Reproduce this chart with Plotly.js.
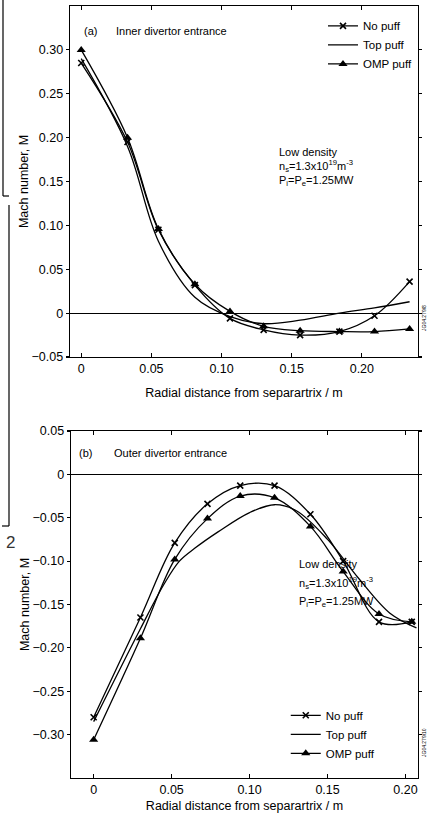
<!DOCTYPE html>
<html>
<head>
<meta charset="utf-8">
<script src="https://cdn.plot.ly/plotly-3.0.1.min.js"></script>
<style>html,body{margin:0;padding:0;background:#fff;}#chart{width:429px;height:813px;}</style>
</head>
<body>
<div id="chart"></div>
<script>
// ---- Panel (a): inner divertor entrance ----
const xA = [0, 0.033, 0.055, 0.081, 0.106, 0.130, 0.156, 0.184, 0.209, 0.234];
const noPuffA = [0.285, 0.195, 0.095, 0.032, -0.006, -0.019, -0.025, -0.021, -0.003, 0.036];
const topPuffA = [0.290, 0.190, 0.082, 0.018, -0.004, -0.012, -0.008, 0.000, 0.006, 0.013];
const ompPuffA = [0.300, 0.200, 0.096, 0.033, 0.002, -0.015, -0.020, -0.021, -0.021, -0.018];

// ---- Panel (b): outer divertor entrance ----
const xB = [0, 0.030, 0.052, 0.073, 0.094, 0.116, 0.139, 0.160, 0.183, 0.204];
const noPuffB = [-0.280, -0.165, -0.079, -0.034, -0.013, -0.013, -0.046, -0.100, -0.170, -0.170];
const ompPuffB = [-0.306, -0.189, -0.098, -0.051, -0.025, -0.027, -0.060, -0.112, -0.161, -0.170];
const xBtop = [0, 0.030, 0.045, 0.055, 0.065, 0.080, 0.100, 0.116, 0.130, 0.150, 0.170, 0.190, 0.207];
const topPuffB = [-0.285, -0.178, -0.127, -0.100, -0.085, -0.066, -0.044, -0.035, -0.042, -0.075, -0.120, -0.160, -0.177];

const seriesNames = ['No puff', 'Top puff', 'OMP puff'];
const xTickVals = [0, 0.05, 0.10, 0.15, 0.20];
const xTickText = ['0', '0.05', '0.10', '0.15', '0.20'];
const yTickValsA = [-0.05, 0, 0.05, 0.10, 0.15, 0.20, 0.25, 0.30];
const yTickTextA = ['\u22120.05', '0', '0.05', '0.10', '0.15', '0.20', '0.25', '0.30'];
const yTickValsB = [0.05, 0, -0.05, -0.10, -0.15, -0.20, -0.25, -0.30];
const yTickTextB = ['0.05', '0', '\u22120.05', '\u22120.10', '\u22120.15', '\u22120.20', '\u22120.25', '\u22120.30'];

const FONT = 'Liberation Sans, Arial, Helvetica, sans-serif';
const lineStyle = {color: '#000', width: 1.3, shape: 'spline', smoothing: 1};
const noPuffMarker = {symbol: 'x-thin-open', size: 6, color: '#000', line: {color: '#000', width: 1.6}};
const ompMarker = {symbol: 'triangle-up', size: 8, color: '#000'};

const traces = [
  {x: xA, y: noPuffA, name: seriesNames[0], mode: 'lines+markers', line: lineStyle, marker: noPuffMarker, xaxis: 'x', yaxis: 'y', legend: 'legend'},
  {x: xA, y: topPuffA, name: seriesNames[1], mode: 'lines', line: lineStyle, xaxis: 'x', yaxis: 'y', legend: 'legend'},
  {x: xA, y: ompPuffA, name: seriesNames[2], mode: 'lines+markers', line: lineStyle, marker: ompMarker, xaxis: 'x', yaxis: 'y', legend: 'legend'},
  {x: xB, y: noPuffB, name: seriesNames[0], mode: 'lines+markers', line: lineStyle, marker: noPuffMarker, xaxis: 'x2', yaxis: 'y2', legend: 'legend2'},
  {x: xBtop, y: topPuffB, name: seriesNames[1], mode: 'lines', line: lineStyle, xaxis: 'x2', yaxis: 'y2', legend: 'legend2'},
  {x: xB, y: ompPuffB, name: seriesNames[2], mode: 'lines+markers', line: lineStyle, marker: ompMarker, xaxis: 'x2', yaxis: 'y2', legend: 'legend2'}
];

const axisCommon = {
  showline: true, linecolor: '#000', linewidth: 1.4, mirror: 'ticks',
  showgrid: false, ticks: 'inside', ticklen: 4, tickwidth: 1.2, tickcolor: '#000',
  tickfont: {family: FONT, size: 12.5, color: '#000'}
};
const titleFont = {family: FONT, size: 12.5, color: '#000'};
const xTitleA = {text: 'Radial distance from separartrix / m', font: titleFont, standoff: 13};
const xTitleB = {text: 'Radial distance from separartrix / m', font: titleFont, standoff: 9};
const yTitle = {text: 'Mach number, M', font: titleFont, standoff: 0};

const annFont = {family: FONT, size: 11, color: '#000'};
const py = v => (778 - v) / 772;
const px = v => (v - 70) / 348;
const layout = {
  width: 429, height: 813,
  margin: {l: 70, r: 11, t: 6, b: 35},
  paper_bgcolor: '#fff', plot_bgcolor: '#fff',
  font: {family: FONT, color: '#000'},
  xaxis: Object.assign({}, axisCommon, {domain: [0, 1], anchor: 'y', range: [-0.008, 0.24], tickvals: xTickVals, ticktext: xTickText, zeroline: false, title: xTitleA}),
  yaxis: Object.assign({}, axisCommon, {domain: [0.5453, 1], anchor: 'x', range: [-0.05, 0.35], tickvals: yTickValsA, ticktext: yTickTextA, ticks: 'outside', ticklen: 3, zeroline: true, zerolinecolor: '#000', zerolinewidth: 1.2, title: yTitle}),
  xaxis2: Object.assign({}, axisCommon, {domain: [0.003, 1], anchor: 'y2', range: [-0.0145, 0.208], tickvals: xTickVals, ticktext: xTickText, zeroline: false, title: xTitleB}),
  yaxis2: Object.assign({}, axisCommon, {domain: [0, 0.4495], anchor: 'x2', range: [-0.35, 0.05], tickvals: yTickValsB, ticktext: yTickTextB, ticks: 'outside', ticklen: 3, zeroline: true, zerolinecolor: '#000', zerolinewidth: 1.2, title: yTitle}),
  legend: {x: 0.727, xanchor: 'left', y: 0.993, yanchor: 'top', bgcolor: 'rgba(0,0,0,0)', font: {family: FONT, size: 11.5, color: '#000'}, itemwidth: 30, tracegroupgap: 0},
  legend2: {x: 0.62, xanchor: 'left', y: 0.1, yanchor: 'top', bgcolor: 'rgba(0,0,0,0)', font: {family: FONT, size: 11.5, color: '#000'}, itemwidth: 30, tracegroupgap: 0},
  annotations: [
    {xref: 'paper', yref: 'paper', x: px(82), y: py(31), xanchor: 'left', yanchor: 'middle', showarrow: false, font: annFont, text: '(a)'},
    {xref: 'paper', yref: 'paper', x: px(114), y: py(31), xanchor: 'left', yanchor: 'middle', showarrow: false, font: annFont, text: 'Inner divertor entrance'},
    {xref: 'paper', yref: 'paper', x: px(277), y: py(152), xanchor: 'left', yanchor: 'middle', showarrow: false, font: annFont, text: 'Low density'},
    {xref: 'paper', yref: 'paper', x: px(277), y: py(166), xanchor: 'left', yanchor: 'middle', showarrow: false, font: annFont, text: 'n<sub>s</sub>=1.3x10<sup>19</sup>m<sup>-3</sup>'},
    {xref: 'paper', yref: 'paper', x: px(277), y: py(181), xanchor: 'left', yanchor: 'middle', showarrow: false, font: annFont, text: 'P<sub>i</sub>=P<sub>e</sub>=1.25MW'},
    {xref: 'paper', yref: 'paper', x: px(77), y: py(453), xanchor: 'left', yanchor: 'middle', showarrow: false, font: annFont, text: '(b)'},
    {xref: 'paper', yref: 'paper', x: px(112), y: py(453), xanchor: 'left', yanchor: 'middle', showarrow: false, font: annFont, text: 'Outer divertor entrance'},
    {xref: 'paper', yref: 'paper', x: px(297), y: py(564), xanchor: 'left', yanchor: 'middle', showarrow: false, font: annFont, text: 'Low density'},
    {xref: 'paper', yref: 'paper', x: px(297), y: py(583), xanchor: 'left', yanchor: 'middle', showarrow: false, font: annFont, text: 'n<sub>s</sub>=1.3x10<sup>19</sup>m<sup>-3</sup>'},
    {xref: 'paper', yref: 'paper', x: px(297), y: py(602), xanchor: 'left', yanchor: 'middle', showarrow: false, font: annFont, text: 'P<sub>i</sub>=P<sub>e</sub>=1.25MW'},
    {xref: 'paper', yref: 'paper', x: px(419), y: py(318), xanchor: 'left', yanchor: 'middle', showarrow: false, textangle: -90, font: {family: FONT, size: 5, color: '#000'}, text: 'JG04.279/8'},
    {xref: 'paper', yref: 'paper', x: px(419), y: py(742), xanchor: 'left', yanchor: 'middle', showarrow: false, textangle: -90, font: {family: FONT, size: 5, color: '#000'}, text: 'JG04.279/10'},
    {xref: 'paper', yref: 'paper', x: px(4), y: py(542), xanchor: 'left', yanchor: 'middle', showarrow: false, font: {family: FONT, size: 17, color: '#333'}, text: '2'}
  ],
  shapes: [
    {type: 'line', xref: 'paper', yref: 'paper', x0: px(3), x1: px(3), y0: py(0), y1: py(196), line: {color: '#000', width: 1.2}},
    {type: 'line', xref: 'paper', yref: 'paper', x0: px(3), x1: px(9), y0: py(196), y1: py(196), line: {color: '#000', width: 1.2}},
    {type: 'line', xref: 'paper', yref: 'paper', x0: px(9), x1: px(9), y0: py(205), y1: py(526), line: {color: '#000', width: 1.2}},
    {type: 'line', xref: 'paper', yref: 'paper', x0: px(2), x1: px(9), y0: py(526), y1: py(526), line: {color: '#000', width: 1.2}}
  ]
};

Plotly.newPlot('chart', traces, layout, {displayModeBar: false, staticPlot: true});
</script>
</body>
</html>
